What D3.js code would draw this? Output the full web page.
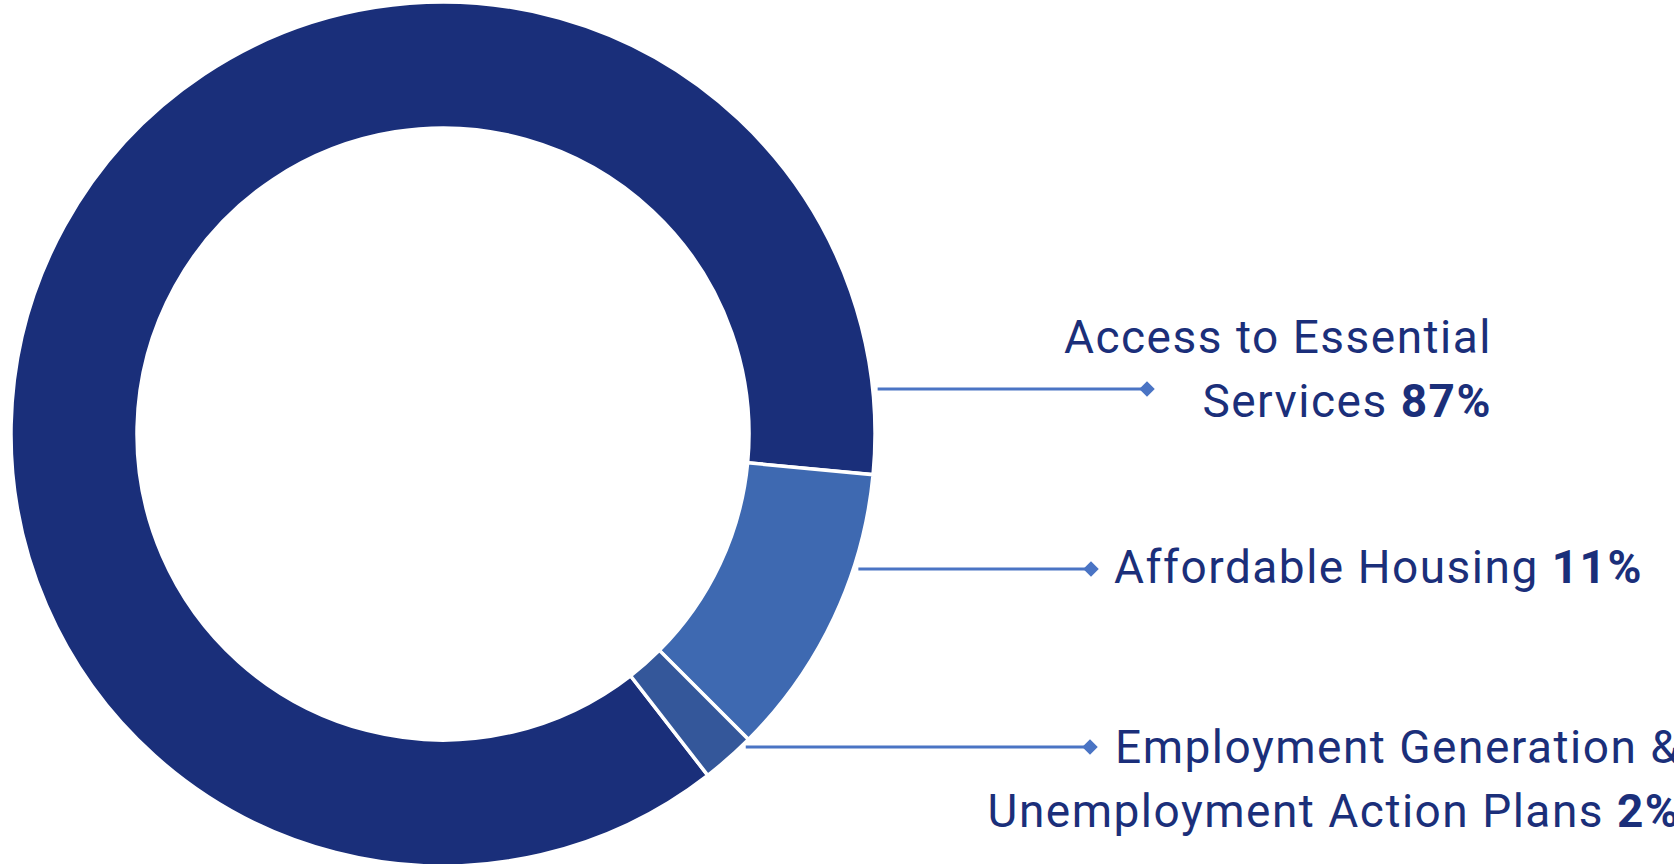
<!DOCTYPE html>
<html>
<head>
<meta charset="utf-8">
<script src="https://cdn.jsdelivr.net/npm/d3@7"></script>
<style>
  html, body { margin: 0; padding: 0; background: #fff; overflow: hidden; }
  svg { display: block; }
</style>
</head>
<body>
<div id="chart"></div>
<script>
// data
const categories = ['Access to Essential Services', 'Affordable Housing', 'Employment Generation & Unemployment Action Plans'];
const shares = [87, 11, 2];
const labelLines = [
    ['Access to Essential', 'Services'],
    ['Affordable Housing'],
    ['Employment Generation &', 'Unemployment Action Plans']
];
const sliceColors = ['#1a2f7a', '#3e69b1', '#34579a'];

// layout
const W = 1674, H = 864;
const cx = 443, cy = 434;
const outerR = 432, innerR = 306;
const startDeg = 142.2;
const textColor = '#1b2f7a';
const leaderColor = '#4a74c4';
const fontSize = 46;
const lineGap = 64;
// leader y, diamond x, first baseline offset, text anchor mode
const labelLayout = [
    { y: 389, dx: 1147, base: -36, anchor: 'end', x: 1492 },
    { y: 569, dx: 1091, base: 14, anchor: 'start', x: 1114 },
    { y: 747, dx: 1090, base: 16, anchor: 'firstStart', x: 1115 }
];

const svg = d3.select('#chart').append('svg')
    .attr('width', W)
    .attr('height', H);

const pie = d3.pie()
    .sort(null)
    .startAngle(startDeg * Math.PI / 180)
    .endAngle(startDeg * Math.PI / 180 + 2 * Math.PI);

const arc = d3.arc()
    .innerRadius(innerR)
    .outerRadius(outerR);

const arcs = pie(shares);

const g = svg.append('g')
    .attr('transform', `translate(${cx},${cy})`);

g.selectAll('path.slice')
    .data(arcs)
    .enter().append('path')
    .attr('class', 'slice')
    .attr('d', arc)
    .attr('fill', (d, i) => sliceColors[i])
    .attr('stroke', '#fff')
    .attr('stroke-width', 3.5)
    .attr('stroke-linejoin', 'miter');

// leader lines + labels
const labels = svg.append('g').attr('class', 'labels');

arcs.forEach((a, i) => {
    const L = labelLayout[i];
    const yy = L.y - cy;
    const xStart = cx + Math.sqrt(Math.max(0, outerR * outerR - yy * yy)) + 5;

    labels.append('line')
        .attr('x1', xStart)
        .attr('x2', L.dx)
        .attr('y1', L.y)
        .attr('y2', L.y)
        .attr('stroke', leaderColor)
        .attr('stroke-width', 3);

    labels.append('rect')
        .attr('x', -5.5)
        .attr('y', -5.5)
        .attr('width', 11)
        .attr('height', 11)
        .attr('fill', leaderColor)
        .attr('transform', `translate(${L.dx},${L.y}) rotate(45)`);

    const lines = labelLines[i];
    const nLines = lines.length;
    const firstBase = L.y + L.base;

    const texts = lines.map((t, j) => {
        const txt = labels.append('text')
            .attr('y', firstBase + j * lineGap)
            .attr('font-family', 'Roboto, "Noto Sans", sans-serif')
            .attr('font-size', fontSize)
            .attr('letter-spacing', 1.5)
            .attr('fill', textColor);
        txt.append('tspan').text(t);
        if (j === nLines - 1) {
            txt.append('tspan').attr('font-weight', 700).text(' ' + shares[i] + '%');
        }
        return txt;
    });

    if (L.anchor === 'firstStart') {
        const w0 = texts[0].node().getComputedTextLength();
        const right = L.x + w0;
        texts.forEach(t => t.attr('text-anchor', 'end').attr('x', right));
    } else {
        texts.forEach(t => t.attr('text-anchor', L.anchor).attr('x', L.x));
    }
});
</script>
</body>
</html>
